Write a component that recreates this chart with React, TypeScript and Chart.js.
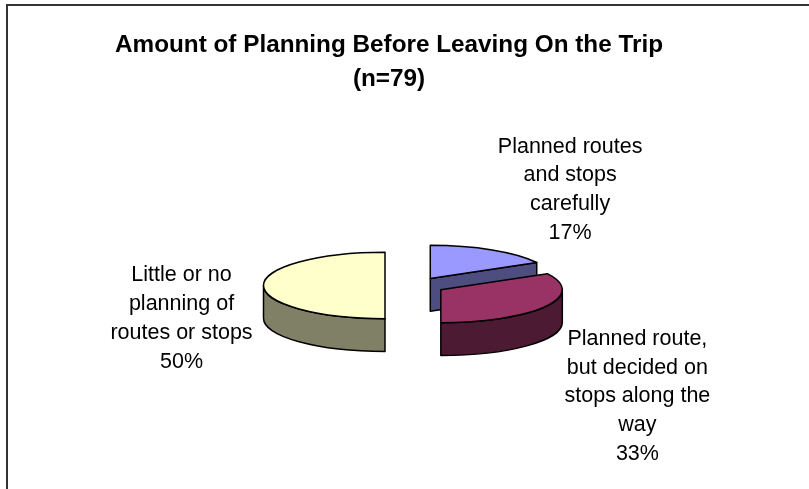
import React, { useEffect, useRef } from 'react';
import { Chart, registerables } from 'chart.js';

Chart.register(...registerables);

// ---- data ----
const categories = [
  'Planned routes and stops carefully',
  'Planned route, but decided on stops along the way',
  'Little or no planning of routes or stops',
];
const percentages = [17, 33, 50];
const titleLines = ['Amount of Planning Before Leaving On the Trip', '(n=79)'];

// ---- styles ----
const FONT_FAMILY = '"Liberation Sans", Arial, Helvetica, sans-serif';
const topColors = ['#9999FF', '#993366', '#FFFFCC'];
const sideColors = ['#4D4D80', '#4D1A33', '#808066'];
const labelOffsets = [
  [78, -60],
  [92, 90],
  [-82, 33],
];
const TILT = 0.2727; // vertical squash of the pie
const DEPTH = 0.27; // thickness as fraction of radius
const EXPLODE = 30;
const LABEL_FONT = `21.5px ${FONT_FAMILY}`;
const LABEL_LINE = 28.8;
const LABEL_WRAP = 160;

function wrapText(ctx: CanvasRenderingContext2D, text: string, maxW: number): string[] {
  const words = text.split(' ');
  const lines: string[] = [];
  let cur = '';
  for (const w of words) {
    const test = cur ? cur + ' ' + w : w;
    if (cur && ctx.measureText(test).width > maxW) {
      lines.push(cur);
      cur = w;
    } else {
      cur = test;
    }
  }
  if (cur) lines.push(cur);
  return lines;
}

const pie3d = {
  id: 'pie3d',
  beforeDatasetsDraw(chart: any) {
    const meta = chart.getDatasetMeta(0);
    const ctx: CanvasRenderingContext2D = chart.ctx;
    const values: number[] = chart.data.datasets[0].data;
    const total = values.reduce((a: number, b: number) => a + b, 0);
    const slices = meta.data.map((arc: any, i: number) => {
      const p = arc.getProps(['x', 'y', 'startAngle', 'endAngle', 'outerRadius'], true);
      const off = arc.options.offset || 0;
      const mid = (p.startAngle + p.endAngle) / 2;
      const rx = p.outerRadius;
      const ry = rx * TILT;
      const h = rx * DEPTH;
      const X = p.x + Math.cos(mid) * off;
      const Y = p.y + Math.sin(mid) * off * TILT;
      return { i, X, Y, rx, ry, h, a0: p.startAngle, a1: p.endAngle, mid };
    });
    const order = [...slices].sort((a: any, b: any) => a.Y - b.Y);
    ctx.save();
    ctx.lineWidth = 1.5;
    ctx.strokeStyle = '#000';
    ctx.lineJoin = 'round';
    for (const s of order) {
      const side = sideColors[s.i];
      const top = topColors[s.i];
      const faces: number[] = [];
      if (Math.cos(s.a0) < -1e-6) faces.push(s.a0);
      if (Math.cos(s.a1) > 1e-6) faces.push(s.a1);
      for (const a of faces) {
        const ex = s.X + s.rx * Math.cos(a);
        const ey = s.Y + s.ry * Math.sin(a);
        ctx.beginPath();
        ctx.moveTo(s.X, s.Y);
        ctx.lineTo(ex, ey);
        ctx.lineTo(ex, ey + s.h);
        ctx.lineTo(s.X, s.Y + s.h);
        ctx.closePath();
        ctx.fillStyle = side;
        ctx.fill();
        ctx.stroke();
      }
      for (let n = -1; n <= 2; n++) {
        const lo = Math.max(s.a0, n * 2 * Math.PI);
        const hi = Math.min(s.a1, n * 2 * Math.PI + Math.PI);
        if (hi - lo > 1e-6) {
          ctx.beginPath();
          ctx.ellipse(s.X, s.Y, s.rx, s.ry, 0, lo, hi);
          ctx.lineTo(s.X + s.rx * Math.cos(hi), s.Y + s.h + s.ry * Math.sin(hi));
          ctx.ellipse(s.X, s.Y + s.h, s.rx, s.ry, 0, hi, lo, true);
          ctx.closePath();
          ctx.fillStyle = side;
          ctx.fill();
          ctx.stroke();
        }
      }
      ctx.beginPath();
      ctx.moveTo(s.X, s.Y);
      ctx.ellipse(s.X, s.Y, s.rx, s.ry, 0, s.a0, s.a1);
      ctx.closePath();
      ctx.fillStyle = top;
      ctx.fill();
      ctx.stroke();
    }
    // labels
    ctx.font = LABEL_FONT;
    ctx.fillStyle = '#000';
    ctx.textAlign = 'center';
    ctx.textBaseline = 'middle';
    for (const s of slices) {
      const px = s.X + s.rx * Math.cos(s.mid);
      const py = s.Y + s.ry * Math.sin(s.mid);
      const cx = px + labelOffsets[s.i][0];
      const cy = py + labelOffsets[s.i][1];
      const lines = wrapText(ctx, chart.data.labels[s.i], LABEL_WRAP);
      lines.push(Math.round((values[s.i] / total) * 100) + '%');
      const y0 = cy - ((lines.length - 1) / 2) * LABEL_LINE;
      lines.forEach((ln, k) => ctx.fillText(ln, cx, y0 + k * LABEL_LINE));
    }
    ctx.restore();
    return false;
  },
};

export default function App() {
  const ref = useRef<HTMLCanvasElement>(null);
  useEffect(() => {
    document.body.style.margin = '0';
    const chart = new Chart(ref.current!, {
      type: 'pie',
      data: {
        labels: categories,
        datasets: [
          {
            data: percentages,
            backgroundColor: topColors,
            borderWidth: 0,
            hoverBorderWidth: 0,
            offset: EXPLODE,
            hoverOffset: 0,
          },
        ],
      },
      options: {
        responsive: false,
        animation: false,
        events: [],
        layout: { padding: { top: 0, left: 0, right: 31, bottom: 67 } },
        plugins: {
          title: {
            display: true,
            text: titleLines,
            color: '#000',
            font: { family: FONT_FAMILY, size: 24.3, weight: 'bold', lineHeight: '34px' },
            padding: { top: 28, bottom: 53 },
          },
          legend: {
            display: true,
            position: 'left',
            labels: { filter: () => false, padding: 42 },
          },
          tooltip: { enabled: false },
        },
      },
      plugins: [pie3d],
    } as any);
    return () => chart.destroy();
  }, []);
  return (
    <div style={{ position: 'relative', width: 809, height: 489, background: '#fff', overflow: 'hidden' }}>
      <canvas ref={ref} width={809} height={489} style={{ display: 'block' }} />
      <div
        style={{
          position: 'absolute',
          left: 6,
          top: 4,
          width: 900,
          height: 600,
          borderTop: '2px solid #333',
          borderLeft: '2px solid #333',
          pointerEvents: 'none',
        }}
      />
    </div>
  );
}
